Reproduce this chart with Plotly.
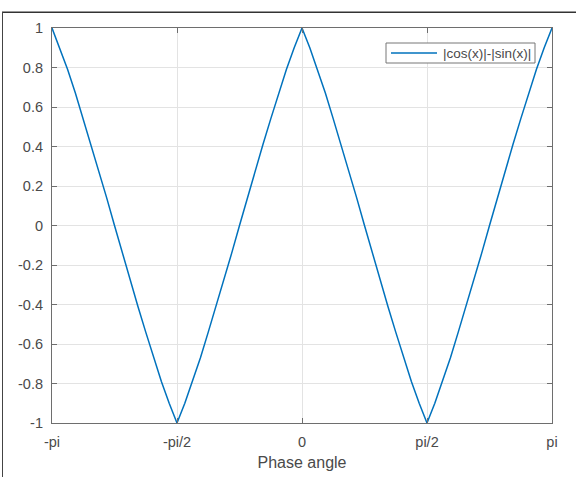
import math
import plotly.graph_objects as go

# Sample positions in units of pi/32, from -pi to pi
x_steps = list(range(-32, 33))
# |cos(x)|-|sin(x)| values (one per sample position)
y_vals = [1.0, 0.9, 0.79, 0.67, 0.54, 0.41, 0.28, 0.14, 0.0,
          -0.14, -0.28, -0.41, -0.54, -0.67, -0.79, -0.9, -1.0,
          -0.9, -0.79, -0.67, -0.54, -0.41, -0.28, -0.14, 0.0,
          0.14, 0.28, 0.41, 0.54, 0.67, 0.79, 0.9, 1.0,
          0.9, 0.79, 0.67, 0.54, 0.41, 0.28, 0.14, 0.0,
          -0.14, -0.28, -0.41, -0.54, -0.67, -0.79, -0.9, -1.0,
          -0.9, -0.79, -0.67, -0.54, -0.41, -0.28, -0.14, 0.0,
          0.14, 0.28, 0.41, 0.54, 0.67, 0.79, 0.9, 1.0]
x_vals = [k * math.pi / 32 for k in x_steps]
series_name = "|cos(x)|-|sin(x)|"

x_tick_labels = ["-pi", "-pi/2", "0", "pi/2", "pi"]
x_tick_vals = [-math.pi, -math.pi / 2, 0, math.pi / 2, math.pi]
y_tick_vals = [-1, -0.8, -0.6, -0.4, -0.2, 0, 0.2, 0.4, 0.6, 0.8, 1]
y_tick_labels = ["-1", "-0.8", "-0.6", "-0.4", "-0.2", "0", "0.2", "0.4", "0.6", "0.8", "1"]

FONT = "Liberation Sans"
TXT = "#4a4a4a"
LINE_COLOR = "#0072BD"

W, H = 576, 477
ML, MR, MT, MB = 52, 24, 28, 54
PW, PH = W - ML - MR, H - MT - MB


def px_x(px):
    return (px - ML) / PW


def px_y(py):
    return (H - MB - py) / PH


fig = go.Figure()
fig.add_trace(go.Scatter(x=x_vals, y=y_vals, mode="lines",
                         line=dict(color=LINE_COLOR, width=1.5),
                         name=series_name, showlegend=False))

axis_common = dict(showline=True, linecolor="#6e6e6e", linewidth=1.2,
                   mirror="ticks", ticks="inside", ticklen=5, tickcolor="#6e6e6e",
                   showgrid=True, gridcolor="#e3e3e3", gridwidth=1, zeroline=False,
                   automargin=False,
                   tickfont=dict(family=FONT, size=14.5, color=TXT))

fig.update_layout(
    width=W, height=H,
    margin=dict(l=ML, r=MR, t=MT, b=MB),
    paper_bgcolor="white", plot_bgcolor="white",
    font=dict(family=FONT, color=TXT),
    xaxis=dict(range=[-math.pi, math.pi], tickvals=x_tick_vals, ticktext=x_tick_labels,
               ticklabelstandoff=5,
               title=dict(text="Phase angle", font=dict(size=16, color=TXT), standoff=8),
               **axis_common),
    yaxis=dict(range=[-1, 1], tickvals=y_tick_vals, ticktext=y_tick_labels,
               ticklabelstandoff=5, **axis_common),
    showlegend=False,
)

# legend box (drawn by hand to match the compact MATLAB legend)
fig.add_shape(type="rect", xref="paper", yref="paper",
              x0=px_x(386), x1=px_x(535), y0=px_y(63), y1=px_y(43),
              line=dict(color="#777777", width=1), fillcolor="white", layer="above")
fig.add_shape(type="line", xref="paper", yref="paper",
              x0=px_x(391), x1=px_x(437), y0=px_y(53), y1=px_y(53),
              line=dict(color=LINE_COLOR, width=1.5), layer="above")
fig.add_annotation(xref="paper", yref="paper", x=px_x(441), y=px_y(53.5),
                   xanchor="left", yanchor="middle", showarrow=False,
                   text=series_name, font=dict(family=FONT, size=13.5, color=TXT))

# figure border (top and left edges visible in the reference)
fig.add_shape(type="rect", xref="paper", yref="paper",
              x0=px_x(2), x1=px_x(W), y0=px_y(13), y1=px_y(11.5),
              line=dict(width=0), fillcolor="#333333", layer="above")
fig.add_shape(type="line", xref="paper", yref="paper",
              x0=px_x(2.5), x1=px_x(2.5), y0=px_y(12), y1=px_y(H),
              line=dict(color="#444444", width=1), layer="above")

fig.write_html("out.html")
